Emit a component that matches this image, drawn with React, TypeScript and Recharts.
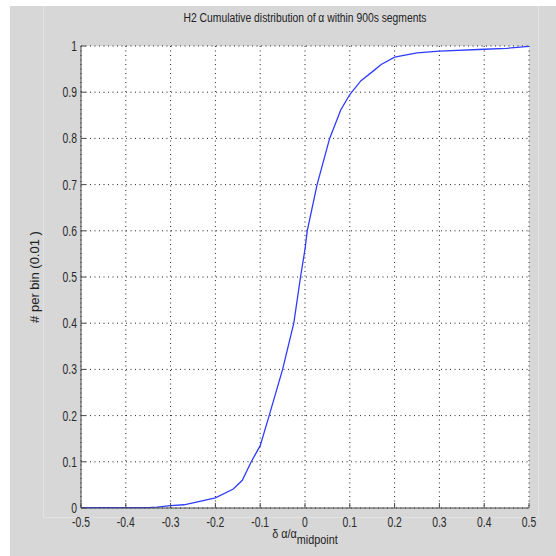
import { CartesianGrid, Line, LineChart, XAxis, YAxis } from "recharts";

// delta alpha / alpha_midpoint (x) and the cumulative fraction (y)
const DELTA = [
  -0.5, -0.45, -0.4, -0.35, -0.33, -0.3, -0.27, -0.25, -0.2, -0.16, -0.14, -0.12, -0.1, -0.08, -0.05,
  -0.025, -0.01, 0, 0.005, 0.027, 0.055, 0.08, 0.1, 0.125, 0.15, 0.17, 0.2, 0.25, 0.3, 0.4, 0.45, 0.5,
];
const CUMULATIVE = [
  0.001, 0.001, 0.001, 0.001, 0.002, 0.005, 0.007, 0.011, 0.022, 0.041, 0.06, 0.1, 0.135, 0.2, 0.3,
  0.4, 0.5, 0.56, 0.6, 0.7, 0.8, 0.862, 0.895, 0.925, 0.944, 0.96, 0.976, 0.985, 0.989, 0.993, 0.995, 0.999,
];
const X_TICKS = [-0.5, -0.4, -0.3, -0.2, -0.1, 0, 0.1, 0.2, 0.3, 0.4, 0.5];
const Y_TICKS = [0, 0.1, 0.2, 0.3, 0.4, 0.5, 0.6, 0.7, 0.8, 0.9, 1];

const data = DELTA.map((x, i) => ({ x, y: CUMULATIVE[i] }));

const FONT = '"Liberation Sans", Arial, Helvetica, sans-serif';
const FRAME = "#4a4a4a";
const fmt = (v: number) => String(Math.round(v * 10) / 10);

// matlab-ish narrow tick labels
const NarrowTick = (props: any) => {
  const { x, y, payload, textAnchor, vertical } = props;
  return (
    <text
      x={x}
      y={y}
      dy={vertical ? "0.36em" : "0.71em"}
      textAnchor={textAnchor}
      fill="#2a2a2a"
      fontSize={14}
      fontFamily={FONT}
      transform={`translate(${x} ${y}) scale(0.74 1) translate(${-x} ${-y})`}
    >
      {fmt(payload.value)}
    </text>
  );
};

export default function App() {
  return (
    <div style={{ position: "absolute", left: 0, top: 0, width: 556, height: 556, background: "#fff", overflow: "hidden" }}>
      {/* figure background */}
      <div style={{ position: "absolute", left: 10, top: 6, right: 0, bottom: 0, background: "#d7d7d7" }} />
      <div style={{ position: "absolute", left: 43, top: 6, width: 1, height: 511, background: "#e2e2e2" }} />
      <div style={{ position: "absolute", left: 43, top: 517, width: 496, height: 1, background: "#e2e2e2" }} />
      <div style={{ position: "absolute", left: 538, top: 6, width: 1, height: 512, background: "#e2e2e2" }} />

      <div style={{ position: "absolute", left: 0, top: 0 }}>
        <LineChart width={556} height={556} data={data} margin={{ top: 46, right: 27, bottom: 18, left: 41 }}>
          <CartesianGrid fill="#ffffff" stroke="#222" strokeDasharray="1 3.5" />
          <XAxis
            dataKey="x"
            type="number"
            domain={[-0.5, 0.5]}
            ticks={X_TICKS}
            height={30}
            tickSize={-5}
            tickMargin={14}
            stroke={FRAME}
            tick={<NarrowTick />}
            interval={0}
          />
          <XAxis
            xAxisId="top"
            dataKey="x"
            type="number"
            orientation="top"
            domain={[-0.5, 0.5]}
            ticks={X_TICKS}
            height={0}
            tickSize={-5}
            tick={false}
            stroke={FRAME}
          />
          <YAxis
            type="number"
            domain={[0, 1]}
            ticks={Y_TICKS}
            width={40}
            tickSize={-5}
            tickMargin={9}
            stroke={FRAME}
            tick={<NarrowTick vertical />}
            interval={0}
          />
          <YAxis
            yAxisId="right"
            type="number"
            orientation="right"
            domain={[0, 1]}
            ticks={Y_TICKS}
            width={0}
            tickSize={-5}
            tick={false}
            stroke={FRAME}
          />
          <Line
            type="linear"
            dataKey="y"
            stroke="#2f3cff"
            strokeWidth={1.3}
            dot={false}
            isAnimationActive={false}
          />
        </LineChart>
      </div>

      {/* title and axis labels */}
      <div
        style={{
          position: "absolute",
          left: 81,
          width: 448,
          top: 11,
          textAlign: "center",
          fontFamily: FONT,
          fontSize: 12,
          color: "#222",
          whiteSpace: "nowrap",
          transform: "scaleX(0.86)",
        }}
      >
        H2 Cumulative distribution of α within 900s segments
      </div>
      <div
        style={{
          position: "absolute",
          left: 81,
          width: 448,
          top: 527,
          textAlign: "center",
          fontFamily: FONT,
          fontSize: 12,
          color: "#222",
          whiteSpace: "nowrap",
          transform: "scaleX(0.9)",
        }}
      >
        δ α/α<sub style={{ fontSize: 12, verticalAlign: -6 }}>midpoint</sub>
      </div>
      <div
        style={{
          position: "absolute",
          left: 34,
          top: 277,
          transform: "translate(-50%, -50%) rotate(-90deg)",
          fontFamily: FONT,
          fontSize: 13,
          color: "#222",
          whiteSpace: "nowrap",
        }}
      >
        # per bin (0.01 )
      </div>
    </div>
  );
}
